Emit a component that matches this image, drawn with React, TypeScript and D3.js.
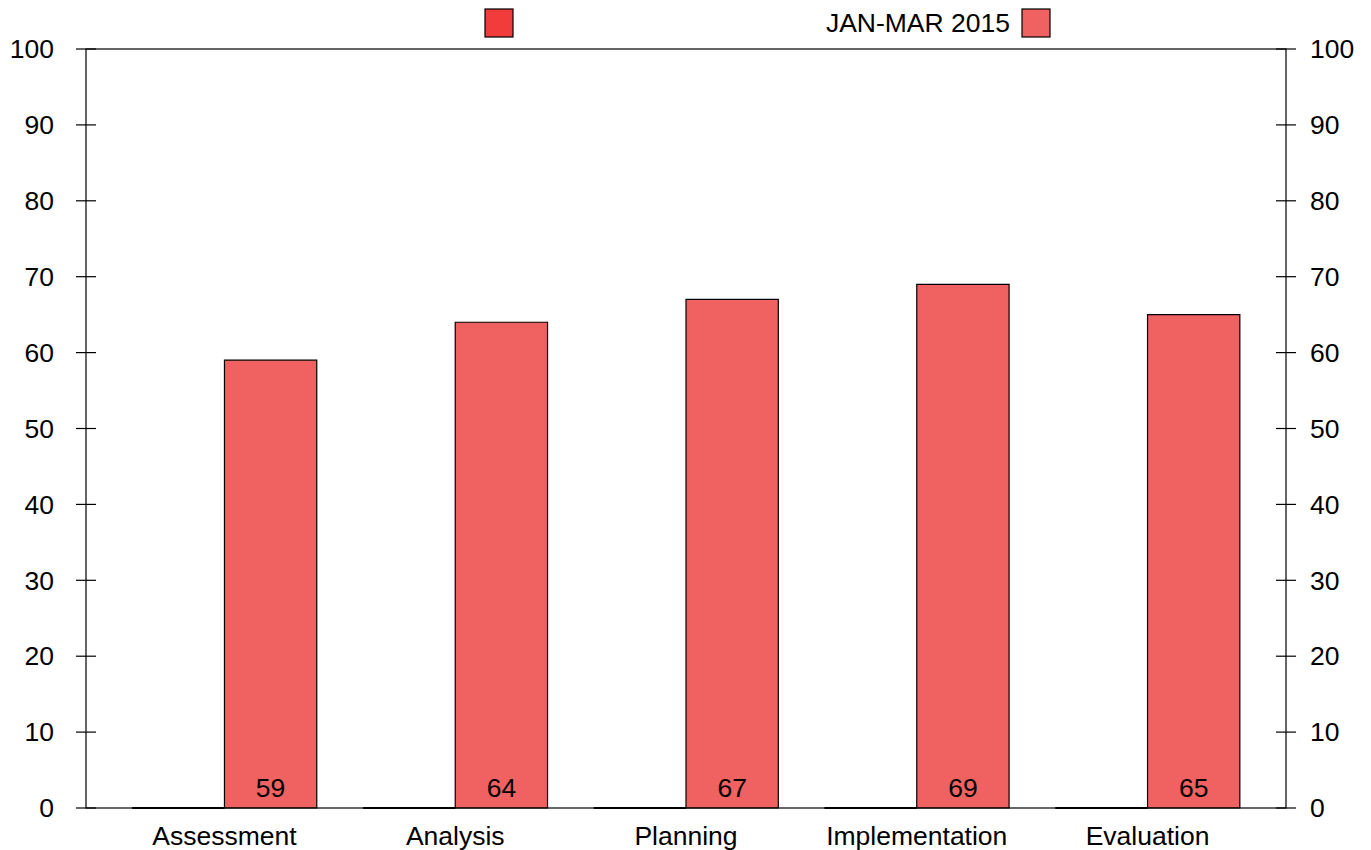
import React from "react";
import * as d3 from "d3";

const categories = ["Assessment", "Analysis", "Planning", "Implementation", "Evaluation"];
const series1Values = [0, 0, 0, 0, 0];
const series2Values = [59, 64, 67, 69, 65];
const seriesNames = ["", "JAN-MAR 2015"];
const yTicks = [0, 10, 20, 30, 40, 50, 60, 70, 80, 90, 100];

const W = 1371, H = 850;
const left = 86, right = 1286, top = 49, bottom = 808;
const FONT = "'Liberation Sans', Arial, sans-serif";
const C1 = "#f23c3c";
const C2 = "#f06262";
const FS = 26.5;

export default function App() {
  const x = d3.scaleLinear().domain([-0.6, 4.6]).range([left, right]);
  const y = d3.scaleLinear().domain([0, 100]).range([bottom, top]);
  const bw = 0.4;
  const offs = [-0.2, 0.2];
  const series = [series1Values, series2Values];
  const colors = [C1, C2];
  return (
    <svg width={W} height={H} style={{ position: "absolute", left: 0, top: 0 }} fontFamily={FONT}>
      <rect x={0} y={0} width={W} height={H} fill="white" />
      {series.map((vals, s) =>
        vals.map((v, i) => {
          const x0 = x(i + offs[s] - bw / 2);
          const x1 = x(i + offs[s] + bw / 2);
          const y0 = y(0);
          const y1 = y(v);
          const d = `M${x0},${y0}V${y1}H${x1}V${y0}Z`;
          return (
            <path key={`b${s}-${i}`} d={d} fill={colors[s]} stroke="black"
              strokeWidth={v === 0 ? 1.8 : 1.2} />
          );
        })
      )}
      {series2Values.map((v, i) => (
        <text key={`v${i}`} x={x(i + offs[1])} y={797} textAnchor="middle" fontSize={FS} fill="black">{v}</text>
      ))}
      <rect x={left} y={top} width={right - left} height={bottom - top} fill="none" stroke="black" strokeWidth={1.2} />
      {yTicks.map((t) => (
        <g key={`t${t}`}>
          <line x1={left - 10} x2={left + 10} y1={y(t)} y2={y(t)} stroke="black" strokeWidth={1.2} />
          <line x1={right - 10} x2={right + 10} y1={y(t)} y2={y(t)} stroke="black" strokeWidth={1.2} />
          <text x={54} y={y(t)} dy="0.35em" textAnchor="end" fontSize={FS}>{t}</text>
          <text x={1310} y={y(t)} dy="0.35em" textAnchor="start" fontSize={FS}>{t}</text>
        </g>
      ))}
      {categories.map((c, i) => (
        <text key={`c${i}`} x={x(i)} y={836} dy="0.35em" textAnchor="middle" fontSize={FS}>{c}</text>
      ))}
      <rect x={485} y={9} width={28} height={28} fill={C1} stroke="black" strokeWidth={1.2} />
      <text x={1010} y={23} dy="0.35em" textAnchor="end" fontSize={FS}>{seriesNames[1]}</text>
      <rect x={1022} y={9} width={28} height={28} fill={C2} stroke="black" strokeWidth={1.2} />
    </svg>
  );
}
